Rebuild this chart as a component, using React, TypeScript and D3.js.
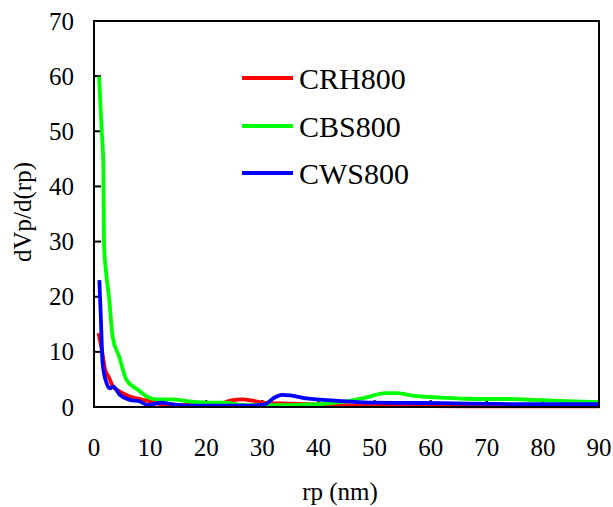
import React from "react";
import * as d3 from "d3";

const seriesNames = ["CRH800", "CBS800", "CWS800"];
const seriesColors = ["#ff0000", "#00ff00", "#0000ff"];

const crhX = [0.8, 1.4, 2.0, 2.6, 3.4, 4.6, 6.4, 8.8, 10.3, 12, 15, 20, 22.5, 24.5, 26.5, 28, 30, 35, 40, 45, 50, 60, 70, 80, 90];
const crhY = [13.4, 10.3, 6.7, 5.5, 3.7, 2.8, 1.9, 1.3, 1.0, 0.5, 0.4, 0.4, 0.6, 1.2, 1.4, 1.2, 0.8, 0.6, 0.45, 0.3, 0.2, 0.15, 0.1, 0.1, 0.1];

const cbsX = [0.9, 1.37, 1.66, 1.78, 2.2, 2.67, 3.33, 4.5, 5.8, 7.9, 9.4, 11, 14, 17, 20, 23.5, 26, 30, 35, 40, 45, 48, 52, 54, 57, 62, 66, 70, 74, 78, 83, 90];
const cbsY = [59.9, 50.2, 44.2, 29.7, 24, 20, 12.7, 9.1, 4.9, 3.1, 1.9, 1.4, 1.4, 1.0, 0.8, 0.8, 0.4, 0.35, 0.35, 0.5, 1.0, 1.6, 2.5, 2.5, 2.0, 1.7, 1.5, 1.45, 1.45, 1.3, 1.1, 0.9];

const cwsX = [0.95, 1.19, 1.54, 2.26, 2.85, 3.44, 4.6, 6.4, 8.2, 9.4, 11, 12, 14, 17, 22, 28, 30.5, 32, 33.5, 35, 37.5, 43, 49, 55, 62, 72, 80, 90];
const cwsY = [23, 17, 7.9, 4.3, 3.4, 3.7, 2.2, 1.3, 1.0, 0.4, 0.6, 0.8, 0.5, 0.25, 0.25, 0.25, 0.5, 1.6, 2.2, 2.1, 1.6, 1.15, 0.8, 0.75, 0.7, 0.55, 0.5, 0.5];

const xTicks = [0, 10, 20, 30, 40, 50, 60, 70, 80, 90];
const yTicks = [0, 10, 20, 30, 40, 50, 60, 70];

const xTitle = "rp (nm)";
const yTitle = "dVp/d(rp)";

export default function App() {
  const W = 613, H = 507;
  const left = 94, right = 599, top = 21, bottom = 407;
  const x = d3.scaleLinear().domain([0, 90]).range([left, right]);
  const y = d3.scaleLinear().domain([0, 70]).range([bottom, top]);
  const ff = "serif";

  const allSeries = [
    { xs: crhX, ys: crhY },
    { xs: cbsX, ys: cbsY },
    { xs: cwsX, ys: cwsY },
  ];
  const line = d3
    .line<[number, number]>()
    .x((d) => x(d[0]))
    .y((d) => y(d[1]))
    .curve(d3.curveMonotoneX);

  const legendY = [78, 126, 173];

  return (
    <svg width={W} height={H} style={{ position: "absolute", left: 0, top: 0 }}>
      <rect x={0} y={0} width={W} height={H} fill="#fff" />
      {yTicks.map((t) => (
        <line key={"yt" + t} x1={left} x2={left + 7} y1={y(t)} y2={y(t)} stroke="#000" strokeWidth={2} />
      ))}
      {xTicks.map((t) => (
        <line key={"xt" + t} x1={x(t)} x2={x(t)} y1={bottom} y2={bottom - 7} stroke="#000" strokeWidth={2} />
      ))}
      {allSeries.map((s, i) => (
        <path
          key={"s" + i}
          d={line(s.xs.map((v, j) => [v, s.ys[j]] as [number, number])) || ""}
          fill="none"
          stroke={seriesColors[i]}
          strokeWidth={3.8}
          strokeLinejoin="round"
        />
      ))}
      <rect x={left} y={top} width={right - left} height={bottom - top} fill="none" stroke="#000" strokeWidth={2} />
      {yTicks.map((t) => (
        <text key={"yl" + t} x={74} y={y(t) + 8.5} textAnchor="end" fontSize={25} fontFamily={ff}>
          {String(t)}
        </text>
      ))}
      {xTicks.map((t) => (
        <text key={"xl" + t} x={x(t)} y={456} textAnchor="middle" fontSize={25} fontFamily={ff}>
          {String(t)}
        </text>
      ))}
      <text x={340} y={500} textAnchor="middle" fontSize={25} fontFamily={ff}>
        {xTitle}
      </text>
      <text transform="translate(31, 212) rotate(-90)" textAnchor="middle" fontSize={25} fontFamily={ff}>
        {yTitle}
      </text>
      {seriesNames.map((n, i) => (
        <g key={"lg" + i}>
          <line x1={242} x2={293} y1={legendY[i]} y2={legendY[i]} stroke={seriesColors[i]} strokeWidth={3.8} />
          <text x={299} y={legendY[i] + 10.5} fontSize={30} fontFamily={ff}>
            {n}
          </text>
        </g>
      ))}
    </svg>
  );
}
